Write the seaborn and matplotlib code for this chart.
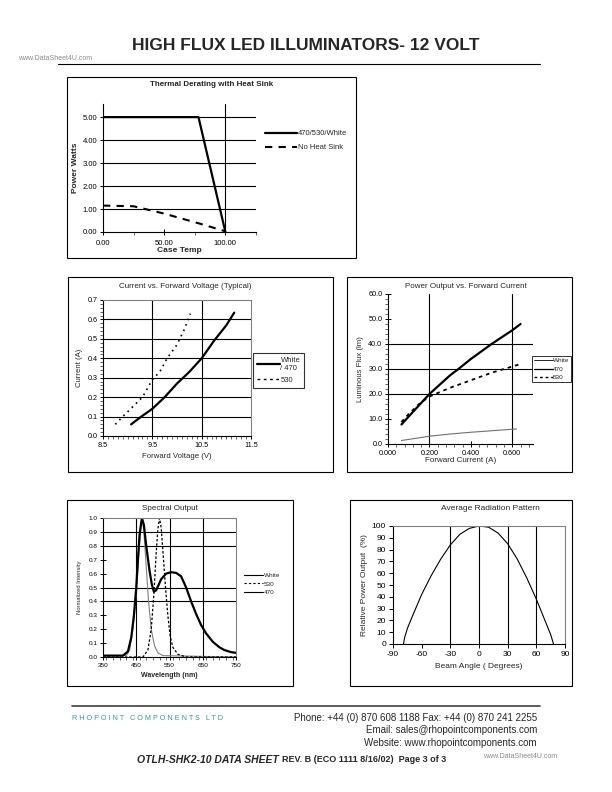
import numpy as np
import pandas as pd
import matplotlib
matplotlib.use("Agg")
import matplotlib.pyplot as plt
from matplotlib.patches import Rectangle
from matplotlib.lines import Line2D
from matplotlib.ticker import FormatStrFormatter, MultipleLocator
import seaborn as sns

sns.set_theme(style="white")
plt.rcParams['font.family'] = ['Liberation Sans', 'DejaVu Sans']
plt.rcParams['axes.unicode_minus'] = False

# ---- data ----
# thermal derating
derate_temp = [0, 78, 100]
derate_heatsink = [5.0, 5.0, 0.0]
noheat_temp = [0, 25, 50, 80, 100]
noheat_power = [1.15, 1.12, 0.8, 0.35, 0.03]

# current vs forward voltage
vf_ticks = [8.5, 9.5, 10.5, 11.5]
vf_white = [9.07, 9.25, 9.5, 9.75, 10.0, 10.25, 10.5, 10.75, 11.0, 11.16]
i_white = [0.06, 0.095, 0.14, 0.20, 0.27, 0.33, 0.40, 0.49, 0.57, 0.635]
vf_530 = [8.75, 8.9, 9.1, 9.3, 9.5, 9.65, 9.8, 10.0, 10.15, 10.27]
i_530 = [0.06, 0.10, 0.15, 0.20, 0.29, 0.33, 0.40, 0.47, 0.55, 0.63]

# power output vs forward current
if_white = [0.065, 0.1, 0.15, 0.2, 0.3, 0.34, 0.4, 0.5, 0.6, 0.64]
flux_white = [7.8, 11.0, 15.5, 20.0, 27.5, 30.0, 34.0, 40.0, 45.5, 48.0]
if_470 = [0.065, 0.2, 0.3, 0.4, 0.5, 0.62]
flux_470 = [1.4, 3.1, 4.0, 4.7, 5.3, 6.0]
if_530 = [0.065, 0.1, 0.15, 0.2, 0.3, 0.4, 0.5, 0.6, 0.64]
flux_530 = [8.8, 12.0, 16.0, 19.0, 22.5, 25.5, 28.5, 31.0, 32.0]

# spectral output
wl_ticks = [350, 450, 550, 650, 750]
wl_white = [350, 410, 425, 435, 443, 450, 455, 460, 467, 473, 480, 490, 497, 503, 510,
            525, 540, 555, 570, 585, 600, 615, 630, 645, 660, 680, 700, 715, 735, 750]
sp_white = [0.01, 0.01, 0.04, 0.14, 0.30, 0.50, 0.70, 0.88, 1.0, 0.95, 0.80, 0.62, 0.52, 0.47, 0.48,
            0.56, 0.60, 0.61, 0.605, 0.58, 0.50, 0.40, 0.31, 0.23, 0.17, 0.11, 0.07, 0.05, 0.035, 0.03]
wl_470 = [350, 420, 430, 440, 450, 458, 465, 468, 473, 480, 487, 495, 505, 515, 530, 750]
sp_470 = [0.01, 0.01, 0.05, 0.20, 0.45, 0.75, 0.97, 1.0, 0.90, 0.65, 0.40, 0.20, 0.08, 0.03, 0.01, 0.0]
wl_530 = [350, 470, 485, 495, 503, 510, 515, 520, 525, 532, 538, 545, 552, 560, 575, 600, 750]
sp_530 = [0.0, 0.0, 0.05, 0.20, 0.45, 0.75, 0.92, 1.0, 0.93, 0.70, 0.50, 0.30, 0.15, 0.07, 0.02, 0.0, 0.0]

# radiation pattern
beam_angle = [-79, -78, -75, -70, -60, -50, -40, -30, -20, -10, 0, 10, 20, 30, 40, 50, 60, 70, 75, 78]
rel_power = [0, 5, 13, 23, 42, 58, 72, 84, 93, 98, 100, 99, 94, 85, 72, 56, 38, 18, 8, 0]

W, H = 612, 792
fig = plt.figure(figsize=(6.12, 7.92), dpi=100)
fig.patch.set_facecolor("white")


def add_ax(x0, y0, x1, y1):
    return fig.add_axes([x0 / W, 1 - y1 / H, (x1 - x0) / W, (y1 - y0) / H])


def frame(x0, y0, x1, y1, lw=0.8):
    fig.patches.append(Rectangle((x0 / W, 1 - y1 / H), (x1 - x0) / W, (y1 - y0) / H,
                                 transform=fig.transFigure, fill=False, lw=lw, ec="black"))


def ftext(x, y, s, **kw):
    fig.text(x / W, 1 - y / H, s, **kw)


def style_ax(ax, fs=5.5, border=False):
    ax.set_facecolor("white")
    for side in ["left", "bottom"]:
        ax.spines[side].set_color("black")
        ax.spines[side].set_linewidth(0.8)
    for side in ["top", "right"]:
        ax.spines[side].set_visible(border)
        ax.spines[side].set_color("#808080")
        ax.spines[side].set_linewidth(0.8)
    ax.tick_params(axis="both", which="major", direction="inout", length=4, width=0.7,
                   labelsize=fs, pad=2, colors="black", left=True, bottom=True)
    ax.tick_params(axis="both", which="minor", direction="out", length=2, width=0.5,
                   left=True, bottom=True)
    ax.grid(False)


def grid_lines(ax, hs=(), vs=()):
    for h in hs:
        ax.axhline(h, color="black", lw=0.8, zorder=1)
    for v in vs:
        ax.axvline(v, color="black", lw=0.8, zorder=1)


# ---- page header ----
ftext(306, 45, "HIGH FLUX LED ILLUMINATORS- 12 VOLT", ha="center", va="center",
      fontsize=12.5, fontweight="bold")
ftext(18, 58, "www.DataSheet4U.com", ha="left", va="center", fontsize=5, color="#8a8a8a")
fig.add_artist(Line2D([58 / W, 540 / W], [1 - 64 / H, 1 - 64 / H], transform=fig.transFigure,
                      color="black", lw=0.8))

# ---- chart 1: thermal derating ----
frame(67, 77, 356, 258)
ax1 = add_ax(103, 104, 256, 232)
style_ax(ax1)
grid_lines(ax1, hs=[1, 2, 3, 4, 5], vs=[100])
sns.lineplot(x=derate_temp, y=derate_heatsink, ax=ax1, color="black", lw=1.6, sort=False)
sns.lineplot(x=noheat_temp, y=noheat_power, ax=ax1, color="black", lw=1.5,
             linestyle=(0, (3.5, 3)), sort=False)
ax1.set_xlim(0, 125)
ax1.set_ylim(0, 5.57)
ax1.xaxis.set_major_locator(MultipleLocator(50))
ax1.xaxis.set_minor_locator(MultipleLocator(25))
ax1.yaxis.set_major_locator(MultipleLocator(1))
ax1.xaxis.set_major_formatter(FormatStrFormatter("%.2f"))
ax1.yaxis.set_major_formatter(FormatStrFormatter("%.2f"))
ax1.tick_params(axis="x", which="major", pad=3.5)
ax1.set_xlabel("Case Temp", fontsize=6, fontweight="bold", labelpad=0.5)
ax1.set_ylabel("Power Watts", fontsize=6, fontweight="bold", labelpad=3)
ftext(212, 84, "Thermal Derating with Heat Sink", ha="center", va="center",
      fontsize=5.8, fontweight="bold")
h1 = [Line2D([], [], color="black", lw=1.6),
      Line2D([], [], color="black", lw=1.5, linestyle=(0, (3.5, 3)))]
ax1.legend(h1, ["470/530/White", "No Heat Sink"], loc="upper left", frameon=False,
           bbox_to_anchor=(258 / W, 1 - 123 / H), bbox_transform=fig.transFigure,
           fontsize=5.5, handlelength=4.2, handletextpad=0.1, labelspacing=0.9)

# ---- chart 2: current vs forward voltage ----
frame(68, 277, 333, 472)
ax2 = add_ax(103, 300, 251, 436)
style_ax(ax2, fs=5.2, border=True)
grid_lines(ax2, hs=[0.1, 0.2, 0.3, 0.4, 0.5, 0.6], vs=[9.5, 10.5])
sns.lineplot(x=vf_white, y=i_white, ax=ax2, color="black", lw=1.6)
sns.lineplot(x=vf_530, y=i_530, ax=ax2, color="black", lw=1.2, linestyle=(0, (1, 2.5)))
ax2.set_xlim(8.5, 11.5)
ax2.set_ylim(0, 0.7)
ax2.set_xticks(vf_ticks)
ax2.xaxis.set_minor_locator(MultipleLocator(0.1))
ax2.yaxis.set_major_locator(MultipleLocator(0.1))
ax2.yaxis.set_minor_locator(MultipleLocator(0.02))
ax2.yaxis.set_major_formatter(FormatStrFormatter("%.1f"))
ax2.xaxis.set_major_formatter(FormatStrFormatter("%.1f"))
ax2.set_xlabel("Forward Voltage (V)", fontsize=5.6, labelpad=3)
ax2.set_ylabel("Current (A)", fontsize=5.6, labelpad=3)
ftext(185, 287, "Current vs. Forward Voltage (Typical)", ha="center", va="center", fontsize=5.8)
h2 = [Line2D([], [], color="black", lw=1.6),
      Line2D([], [], color="black", lw=1.0, linestyle=(0, (2, 2.5)))]
leg2 = ax2.legend(h2, ["White\n/ 470", "530"], loc="upper left", frameon=True, fancybox=False,
                  bbox_to_anchor=(253 / W, 1 - 353 / H), bbox_transform=fig.transFigure,
                  fontsize=5.5, handlelength=3.0, handletextpad=0.1, labelspacing=0.6,
                  borderpad=0.5, borderaxespad=0)
leg2.get_frame().set_edgecolor("black")
leg2.get_frame().set_linewidth(0.8)

# ---- chart 3: power output vs forward current ----
frame(347, 277, 572, 472)
ax3 = add_ax(388, 294, 533, 444)
style_ax(ax3, fs=5.2)
grid_lines(ax3, hs=[20, 30, 40], vs=[0.2, 0.6])
sns.lineplot(x=if_white, y=flux_white, ax=ax3, color="black", lw=1.6)
sns.lineplot(x=if_470, y=flux_470, ax=ax3, color="#707070", lw=0.8)
sns.lineplot(x=if_530, y=flux_530, ax=ax3, color="black", lw=1.3, linestyle=(0, (2, 2.2)))
ax3.set_xlim(0, 0.7)
ax3.set_ylim(0, 60)
ax3.xaxis.set_major_locator(MultipleLocator(0.2))
ax3.xaxis.set_minor_locator(MultipleLocator(0.04))
ax3.yaxis.set_major_locator(MultipleLocator(10))
ax3.yaxis.set_minor_locator(MultipleLocator(2))
ax3.xaxis.set_major_formatter(FormatStrFormatter("%.3f"))
ax3.yaxis.set_major_formatter(FormatStrFormatter("%.1f"))
ax3.set_xlabel("Forward Current (A)", fontsize=5.8, labelpad=0)
ax3.set_ylabel("Luminous Flux (lm)", fontsize=5.6, labelpad=3)
ftext(466, 287, "Power Output vs. Forward Current", ha="center", va="center", fontsize=5.8)
h3 = [Line2D([], [], color="black", lw=0.6),
      Line2D([], [], color="black", lw=0.9),
      Line2D([], [], color="black", lw=1.0, linestyle=(0, (2, 2)))]
leg3 = ax3.legend(h3, ["White", "470", "530"], loc="upper left", frameon=True, fancybox=False,
                  bbox_to_anchor=(532 / W, 1 - 356 / H), bbox_transform=fig.transFigure,
                  fontsize=4.6, handlelength=3.0, handletextpad=0.0, labelspacing=0.45,
                  borderpad=0.3, borderaxespad=0)
leg3.get_frame().set_edgecolor("black")
leg3.get_frame().set_linewidth(0.7)

# ---- chart 4: spectral output ----
frame(67, 500, 293, 686)
ax4 = add_ax(103, 518, 236, 657)
style_ax(ax4, fs=4.6, border=True)
grid_lines(ax4, hs=[0.4, 0.5, 0.8, 0.9], vs=[450, 550, 650])
sns.lineplot(x=wl_470, y=sp_470, ax=ax4, color="#808080", lw=0.8)
sns.lineplot(x=wl_530, y=sp_530, ax=ax4, color="black", lw=0.9, linestyle=(0, (2, 1.5)))
sns.lineplot(x=wl_white, y=sp_white, ax=ax4, color="black", lw=1.6)
ax4.set_xlim(350, 750)
ax4.set_ylim(0, 1.0)
ax4.set_xticks(wl_ticks)
ax4.xaxis.set_minor_locator(MultipleLocator(20))
ax4.yaxis.set_major_locator(MultipleLocator(0.1))
ax4.yaxis.set_major_formatter(FormatStrFormatter("%.1f"))
ax4.set_xlabel("Wavelength (nm)", fontsize=5.0, fontweight="bold", labelpad=3)
ax4.set_ylabel("Normalized Intensity", fontsize=4.2, labelpad=5)
ftext(170, 509, "Spectral Output", ha="center", va="center", fontsize=5.8)
h4 = [Line2D([], [], color="black", lw=0.8),
      Line2D([], [], color="black", lw=0.8, linestyle=(0, (2, 2))),
      Line2D([], [], color="black", lw=0.8)]
ax4.legend(h4, ["White", "530", "470"], loc="upper left", frameon=False,
           bbox_to_anchor=(241 / W, 1 - 570 / H), bbox_transform=fig.transFigure,
           fontsize=4.6, handlelength=3.0, handletextpad=0.2, labelspacing=0.5, borderaxespad=0)

# ---- chart 5: radiation pattern ----
frame(350, 500, 572, 686)
ax5 = add_ax(393, 526, 565, 644)
style_ax(ax5, fs=6, border=True)
grid_lines(ax5, vs=[-30, 0, 30, 60])
sns.lineplot(x=beam_angle, y=rel_power, ax=ax5, color="black", lw=0.8)
ax5.set_xlim(-90, 90)
ax5.set_ylim(0, 100)
ax5.xaxis.set_major_locator(MultipleLocator(30))
ax5.yaxis.set_major_locator(MultipleLocator(10))
ax5.tick_params(axis="both", which="major", direction="out", length=3)
ax5.set_xlabel("Beam Angle ( Degrees)", fontsize=6, labelpad=4)
ax5.set_ylabel("Relative Power Output  (%)", fontsize=6, labelpad=3)
ftext(490, 509, "Average Radiation Pattern", ha="center", va="center", fontsize=6)

# ---- footer ----
fig.add_artist(Line2D([72 / W, 540 / W], [1 - 706 / H, 1 - 706 / H], transform=fig.transFigure,
                      color="#404040", lw=1.2))
ftext(72, 718, "R H O P O I N T   C O M P O N E N T S   L T D", ha="left", va="center",
      fontsize=5.2, color="#2f9a9a")
ftext(537, 718, "Phone: +44 (0) 870 608 1188 Fax: +44 (0) 870 241 2255", ha="right",
      va="center", fontsize=7)
ftext(537, 730, "Email: sales@rhopointcomponents.com", ha="right", va="center", fontsize=7)
ftext(537, 743, "Website: www.rhopointcomponents.com", ha="right", va="center", fontsize=7)
ftext(137, 760, "OTLH-SHK2-10 DATA SHEET", ha="left", va="center", fontsize=7.5,
      fontweight="bold", fontstyle="italic")
ftext(282, 760, "REV. B (ECO 1111 8/16/02)  Page 3 of 3", ha="left", va="center",
      fontsize=6.5, fontweight="bold")
ftext(483, 757, "www.DataSheet4U.com", ha="left", va="center", fontsize=5, color="#8a8a8a")

fig.savefig("out.png", dpi=100, facecolor="white")
